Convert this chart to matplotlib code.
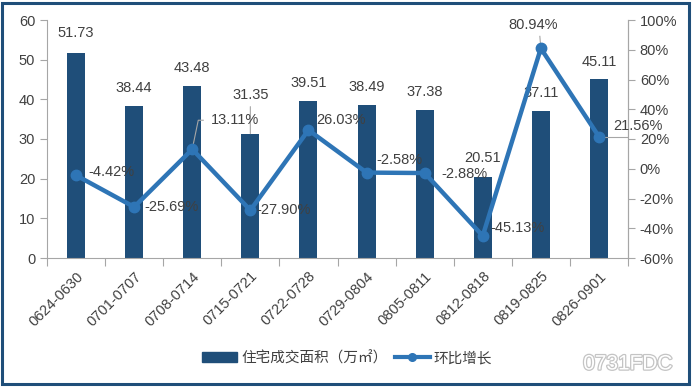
import matplotlib
matplotlib.use("Agg")
import matplotlib.pyplot as plt
import matplotlib.patheffects as pe
from matplotlib.patches import Rectangle, Patch
from matplotlib.lines import Line2D
from matplotlib.ticker import FuncFormatter, MultipleLocator

plt.rcParams['font.family'] = ['Liberation Sans', 'Noto Sans CJK SC', 'DejaVu Sans']

categories = ['0624-0630', '0701-0707', '0708-0714', '0715-0721', '0722-0728',
              '0729-0804', '0805-0811', '0812-0818', '0819-0825', '0826-0901']
area = [51.73, 38.44, 43.48, 31.35, 39.51, 38.49, 37.38, 20.51, 37.11, 45.11]
growth = [-4.42, -25.69, 13.11, -27.90, 26.03, -2.58, -2.88, -45.13, 80.94, 21.56]
bar_name = '住宅成交面积（万㎡）'
line_name = '环比增长'

bar_color = '#1f4e79'
line_color = '#2e75b6'
txt = '#404040'
axis_c = '#a6a6a6'

W, H = 692, 388
fig = plt.figure(figsize=(W / 100, H / 100), dpi=100)
ax = fig.add_axes([47 / W, 1 - 258 / H, (628 - 47) / W, (258 - 20) / H])
ax2 = ax.twinx()

x = list(range(len(categories)))
ax.bar(x, area, width=0.31, color=bar_color, zorder=2)
ax.set_xlim(-0.5, len(categories) - 0.5)
ax.set_ylim(0, 60)
ax.yaxis.set_major_locator(MultipleLocator(10))

ax2.plot(x, growth, color=line_color, lw=3.2, marker='o', ms=7.5, zorder=3)
ax2.set_ylim(-60, 100)
ax2.yaxis.set_major_locator(MultipleLocator(20))
ax2.yaxis.set_major_formatter(FuncFormatter(lambda v, p: f'{v:.0f}%'))

for a in (ax, ax2):
    a.spines['top'].set_visible(False)
    for s in ('left', 'right', 'bottom'):
        a.spines[s].set_color(axis_c)
    a.tick_params(colors=axis_c, labelcolor=txt, labelsize=10.5, length=5)
ax2.spines['left'].set_visible(False)
ax2.spines['bottom'].set_visible(False)

ax.set_xticks([i - 0.5 for i in range(len(categories) + 1)])
ax.set_xticklabels([])
ax.set_xticks(x, minor=True)
ax.set_xticklabels(categories, minor=True, rotation=45, ha='right',
                   rotation_mode='anchor', fontsize=10.5, color=txt)
ax.tick_params(axis='x', which='minor', length=0, pad=8)
ax.tick_params(axis='x', which='major', length=6)

# bar labels (offsets in pixels)
bar_off = [20, 18, 18, 39, 18, 18, 18, 19, 18, 17]
for i, (v, o) in enumerate(zip(area, bar_off)):
    ax.annotate(f'{v:.2f}', (i, v), xytext=(0, o), textcoords='offset pixels',
                ha='center', va='center', fontsize=10.5, color=txt, zorder=5)
# leader for 31.35
ax.annotate('', (3, area[3]), xytext=(3, area[3] + 27 / 3.967), zorder=4,
            arrowprops=dict(arrowstyle='-', color=axis_c, lw=0.8, shrinkA=0, shrinkB=0))

# line labels: (dx, dy, ha) in pixels
line_off = [(12, 3, 'left'), (10, 0, 'left'), (19, 29, 'left'), (6, 0, 'left'),
            (8, 10, 'left'), (10, 13, 'left'), (17, -1, 'left'), (8, 8, 'left'),
            (-8, 23, 'center'), (14, 11, 'left')]
for i, (v, (dx, dy, ha)) in enumerate(zip(growth, line_off)):
    ax2.annotate(f'{v:.2f}%', (i, v), xytext=(dx, dy), textcoords='offset pixels',
                 ha=ha, va='center', fontsize=10.5, color=txt, zorder=6)
# leaders
pp = 1 / 1.4875
ax2.plot([2, 2 + 6 / 58.1, 2 + 11 / 58.1], [growth[2], growth[2] + 29 * pp, growth[2] + 29 * pp],
         color=axis_c, lw=0.8, zorder=2.5)
ax2.plot([8, 8 - 1 / 58.1], [growth[8], growth[8] + 12 * pp], color=axis_c, lw=0.8, zorder=2.5)
ax2.plot([9, 9.5], [growth[9], growth[9]], color=axis_c, lw=0.8, zorder=2.5)

handles = [Patch(color=bar_color),
           Line2D([0], [0], color=line_color, lw=3, marker='o', ms=5.5)]
fig.legend(handles, [bar_name, line_name], loc='center', bbox_to_anchor=(347 / W, 1 - 358 / H),
           ncol=2, frameon=False, handlelength=2.4, columnspacing=0.5,
           handletextpad=0.3, labelcolor=txt,
           prop={'family': ['Noto Sans CJK SC', 'DejaVu Sans'], 'size': 10.5})

fig.text(628 / W, 1 - 364 / H, '0731FDC', ha='center', va='center', fontsize=15,
         color='white',
         path_effects=[pe.withStroke(linewidth=1.8, foreground='#c4c4c4')])

fig.patches.append(Rectangle((2 / W, 4 / H), 687 / W, 381 / H, transform=fig.transFigure,
                             fill=False, edgecolor='#1f4e79', lw=2.2))

fig.savefig('out.png', dpi=100)
